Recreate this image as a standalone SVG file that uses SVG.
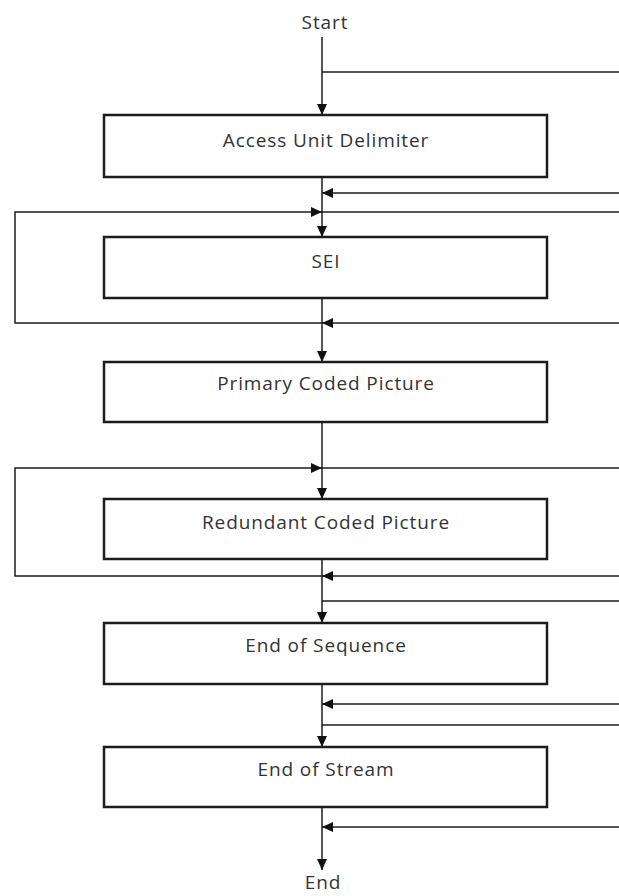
<svg xmlns="http://www.w3.org/2000/svg" width="619" height="896" viewBox="0 0 619 896">
  <style>
    .box { fill: #ffffff; stroke: #1c1c1c; stroke-width: 2.5; }
    .lbl { font-family: "Open Sans", "Liberation Sans", sans-serif; font-size: 19px; letter-spacing: 0.9px; fill: #333333; text-anchor: middle; }
    .wire { fill: none; stroke: #1c1c1c; stroke-width: 1.5; }
    .arr { fill: none; stroke: #1c1c1c; stroke-width: 1.5; marker-end: url(#head); }
  </style>
  <defs>
    <marker id="head" markerUnits="userSpaceOnUse" markerWidth="12" markerHeight="12" viewBox="0 0 12 12" refX="11" refY="6" orient="auto">
      <path d="M0,1 L11,6 L0,11 Z" fill="#111111"/>
    </marker>
  </defs>
  <rect width="619" height="896" fill="#ffffff"/>

  <!-- terminal labels -->
  <g id="start"><text class="lbl" x="325" y="29">Start</text></g>
  <g id="end"><text class="lbl" x="323" y="889">End</text></g>

  <!-- connectors -->
  <g id="connectors">
    <!-- main spine -->
    <path class="arr" d="M322,37 V115"/>
    <path class="arr" d="M322,177 V237"/>
    <path class="arr" d="M322,298 V362"/>
    <path class="arr" d="M322,422 V499"/>
    <path class="arr" d="M322,559 V623"/>
    <path class="arr" d="M322,684 V747"/>
    <path class="arr" d="M322,807 V870"/>
    <!-- branches leaving to the right -->
    <path class="wire" d="M322,72 H619"/>
    <path class="wire" d="M322,212 H619"/>
    <path class="wire" d="M322,468 H619"/>
    <path class="wire" d="M322,601 H619"/>
    <path class="wire" d="M322,725 H619"/>
    <!-- branches joining from the right -->
    <path class="arr" d="M619,193 H322"/>
    <path class="arr" d="M619,323 H322"/>
    <path class="arr" d="M619,576 H322"/>
    <path class="arr" d="M619,704 H322"/>
    <path class="arr" d="M619,827 H322"/>
    <!-- repeat loops on the left -->
    <path class="arr" d="M322,323 H15 V212 H322"/>
    <path class="arr" d="M322,576 H15 V468 H322"/>
  </g>

  <!-- nodes -->
  <g id="access-unit-delimiter">
    <rect class="box" x="104" y="115" width="443" height="62"/>
    <text class="lbl" x="326" y="147">Access Unit Delimiter</text>
  </g>
  <g id="sei">
    <rect class="box" x="104" y="237" width="443" height="61"/>
    <text class="lbl" x="326" y="268">SEI</text>
  </g>
  <g id="primary-coded-picture">
    <rect class="box" x="104" y="362" width="443" height="60"/>
    <text class="lbl" x="326" y="390">Primary Coded Picture</text>
  </g>
  <g id="redundant-coded-picture">
    <rect class="box" x="104" y="499" width="443" height="60"/>
    <text class="lbl" x="326" y="529">Redundant Coded Picture</text>
  </g>
  <g id="end-of-sequence">
    <rect class="box" x="104" y="623" width="443" height="61"/>
    <text class="lbl" x="326" y="652">End of Sequence</text>
  </g>
  <g id="end-of-stream">
    <rect class="box" x="104" y="747" width="443" height="60"/>
    <text class="lbl" x="326" y="776">End of Stream</text>
  </g>
</svg>
